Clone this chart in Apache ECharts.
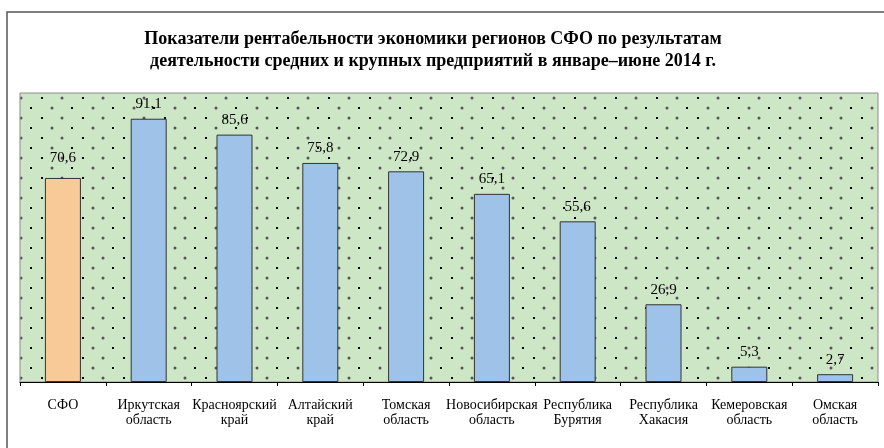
<!DOCTYPE html>
<html>
<head>
<meta charset="utf-8">
<script src="https://cdn.jsdelivr.net/npm/echarts@6/dist/echarts.min.js"></script>
<style>html,body{margin:0;padding:0;background:#fff}#c{width:884px;height:448px}</style>
</head>
<body>
<div id="c"></div>
<script>
var titleText = 'Показатели рентабельности экономики регионов СФО по результатам\nдеятельности средних и крупных предприятий в январе–июне 2014 г.';
var categories = ['СФО', 'Иркутская\nобласть', 'Красноярский\nкрай', 'Алтайский\nкрай', 'Томская\nобласть', 'Новосибирская\nобласть', 'Республика\nБурятия', 'Республика\nХакасия', 'Кемеровская\nобласть', 'Омская\nобласть'];
var values = [70.6, 91.1, 85.6, 75.8, 72.9, 65.1, 55.6, 26.9, 5.3, 2.7];
var highlightIndex = 0;

// dotted pattern tile
var tile = document.createElement('canvas');
tile.width = 41; tile.height = 20;
var ctx = tile.getContext('2d');
ctx.fillStyle = '#cde6c6';
ctx.fillRect(0, 0, 41, 20);
function sq(x, y, col, r) { ctx.fillStyle = col; ctx.fillRect(x, y, r, r); }
function rd(x, y, col, r) { ctx.fillStyle = col; ctx.beginPath(); ctx.arc(x, y, r, 0, Math.PI * 2); ctx.fill(); }
rd(11, 8, '#555', 1.5);
sq(30, 7, '#000', 2);
sq(0, 17, '#000', 2);
rd(21, 18, '#555', 1.5);

var chart = echarts.init(document.getElementById('c'), null, {renderer: 'canvas'});
chart.setOption({
  animation: false,
  backgroundColor: '#fff',
  title: {
    text: titleText,
    left: 428,
    textAlign: 'center',
    top: 23,
    textStyle: {fontFamily: 'Liberation Serif', fontWeight: 'bold', fontSize: 18, lineHeight: 22, color: '#000'}
  },
  graphic: [{
    type: 'rect', shape: {x: 7, y: 12, width: 900, height: 500},
    style: {fill: 'none', stroke: '#555', lineWidth: 1.5}, silent: true, z: 100
  }],
  grid: {
    left: 20, right: 6, top: 93, bottom: 66,
    show: true,
    backgroundColor: {image: tile, repeat: 'repeat'},
    borderColor: '#8c8c8c', borderWidth: 1
  },
  xAxis: {
    type: 'category',
    data: categories,
    axisLine: {lineStyle: {color: '#000', width: 1}},
    axisTick: {show: true, length: 4, lineStyle: {color: '#000'}},
    axisLabel: {fontFamily: 'Liberation Serif', fontSize: 14, color: '#000', lineHeight: 15, margin: 16, interval: 0}
  },
  yAxis: {
    type: 'value', min: 0, max: 100,
    show: false,
    splitLine: {show: false}
  },
  series: [{
    type: 'bar',
    barWidth: 36,
    data: values.map(function (v, i) {
      return {
        value: v,
        itemStyle: {color: i === highlightIndex ? '#f8ca98' : '#9fc3e8'},
        label: i === highlightIndex ? {distance: 12} : undefined
      };
    }),
    itemStyle: {borderColor: '#333', borderWidth: 1},
    label: {
      show: true, position: 'top', distance: 7,
      fontFamily: 'Liberation Serif', fontSize: 15, color: '#000',
      formatter: function (p) { return String(p.value).replace('.', ','); }
    }
  }]
});
</script>
</body>
</html>
